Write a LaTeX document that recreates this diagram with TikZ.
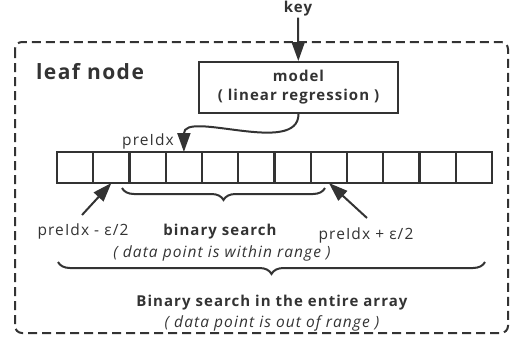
\documentclass[tikz,border=0pt]{standalone}
\usepackage{fontspec}
\setmainfont[LetterSpace=7]{Open Sans}
\usetikzlibrary{arrows.meta,decorations.pathreplacing}
\definecolor{ink}{HTML}{333333}
\tikzset{
  cell/.style={draw=ink, line width=2pt, minimum width=36.25pt, minimum height=31pt, inner sep=0pt, outer sep=0pt},
  arr/.style={-{Triangle[length=19pt,width=13pt]}, line width=2pt, draw=ink},
  lbl/.style={text=ink, inner sep=1pt, font=\fontsize{15.5}{18}\selectfont},
  brc/.style={decorate, decoration={brace, mirror, amplitude=12pt, aspect=0.5}, line width=2pt, draw=ink}
}
\begin{document}
\begin{tikzpicture}[x=1pt, y=-1pt]
\useasboundingbox (0,0) rectangle (513,343);
\draw[ink, line width=2pt, dash pattern=on 9pt off 5pt, rounded corners=7pt] (15,42) rectangle (508,333);
\node[lbl, font=\fontsize{21}{24}\selectfont\bfseries] (leaf) at (90,72) {leaf node};
\node[lbl, font=\fontsize{15}{18}\selectfont\bfseries] (key) at (298,9) {key};
\node[draw=ink, line width=2pt, minimum width=199pt, minimum height=51pt, inner sep=0pt, align=center, lbl, font=\fontsize{15}{19}\selectfont\bfseries] (model) at (298.5,87.5) {model\\( linear regression )};
\node[cell] (c0) at (75.1,167.5) {};
\node[cell] (c1) at (111.4,167.5) {};
\node[cell] (c2) at (147.6,167.5) {};
\node[cell] (c3) at (183.9,167.5) {};
\node[cell] (c4) at (220.1,167.5) {};
\node[cell] (c5) at (256.4,167.5) {};
\node[cell] (c6) at (292.6,167.5) {};
\node[cell] (c7) at (328.9,167.5) {};
\node[cell] (c8) at (365.1,167.5) {};
\node[cell] (c9) at (401.4,167.5) {};
\node[cell] (c10) at (437.6,167.5) {};
\node[cell] (c11) at (473.9,167.5) {};
\node[lbl] (pre) at (148,141) {preIdx};
\node[lbl] (lo) at (83,231) {preIdx - ε/2};
\node[lbl] (hi) at (366,235) {preIdx + ε/2};
\node[lbl, font=\fontsize{15}{18}\selectfont\bfseries] (bs) at (220,232) {binary search};
\node[lbl, font=\fontsize{15.5}{18}\selectfont\itshape] (bsnote) at (222,253) {( data point is within range )};
\node[lbl, font=\fontsize{15}{18}\selectfont\bfseries] (full) at (272,303) {Binary search in the entire array};
\node[lbl, font=\fontsize{15.5}{18}\selectfont\itshape] (fullnote) at (272,323) {( data point is out of range )};
\coordinate (lostart) at (82,215);
\coordinate (histart) at (367,218);
\coordinate (b1a) at (122,188);
\coordinate (b1b) at (325,188);
\coordinate (b2a) at (58,262);
\coordinate (b2b) at (485,262);
\draw[arr] (key) -- (model);
\draw[arr] (model.south) to[out=-90, in=90, looseness=0.9] (c3.north);
\draw[arr] (lostart) -- (c1.south);
\draw[arr] (histart) -- (c7.south);
\draw[brc] (b1a) -- (b1b);
\draw[brc] (b2a) -- (b2b);
\end{tikzpicture}
\end{document}
